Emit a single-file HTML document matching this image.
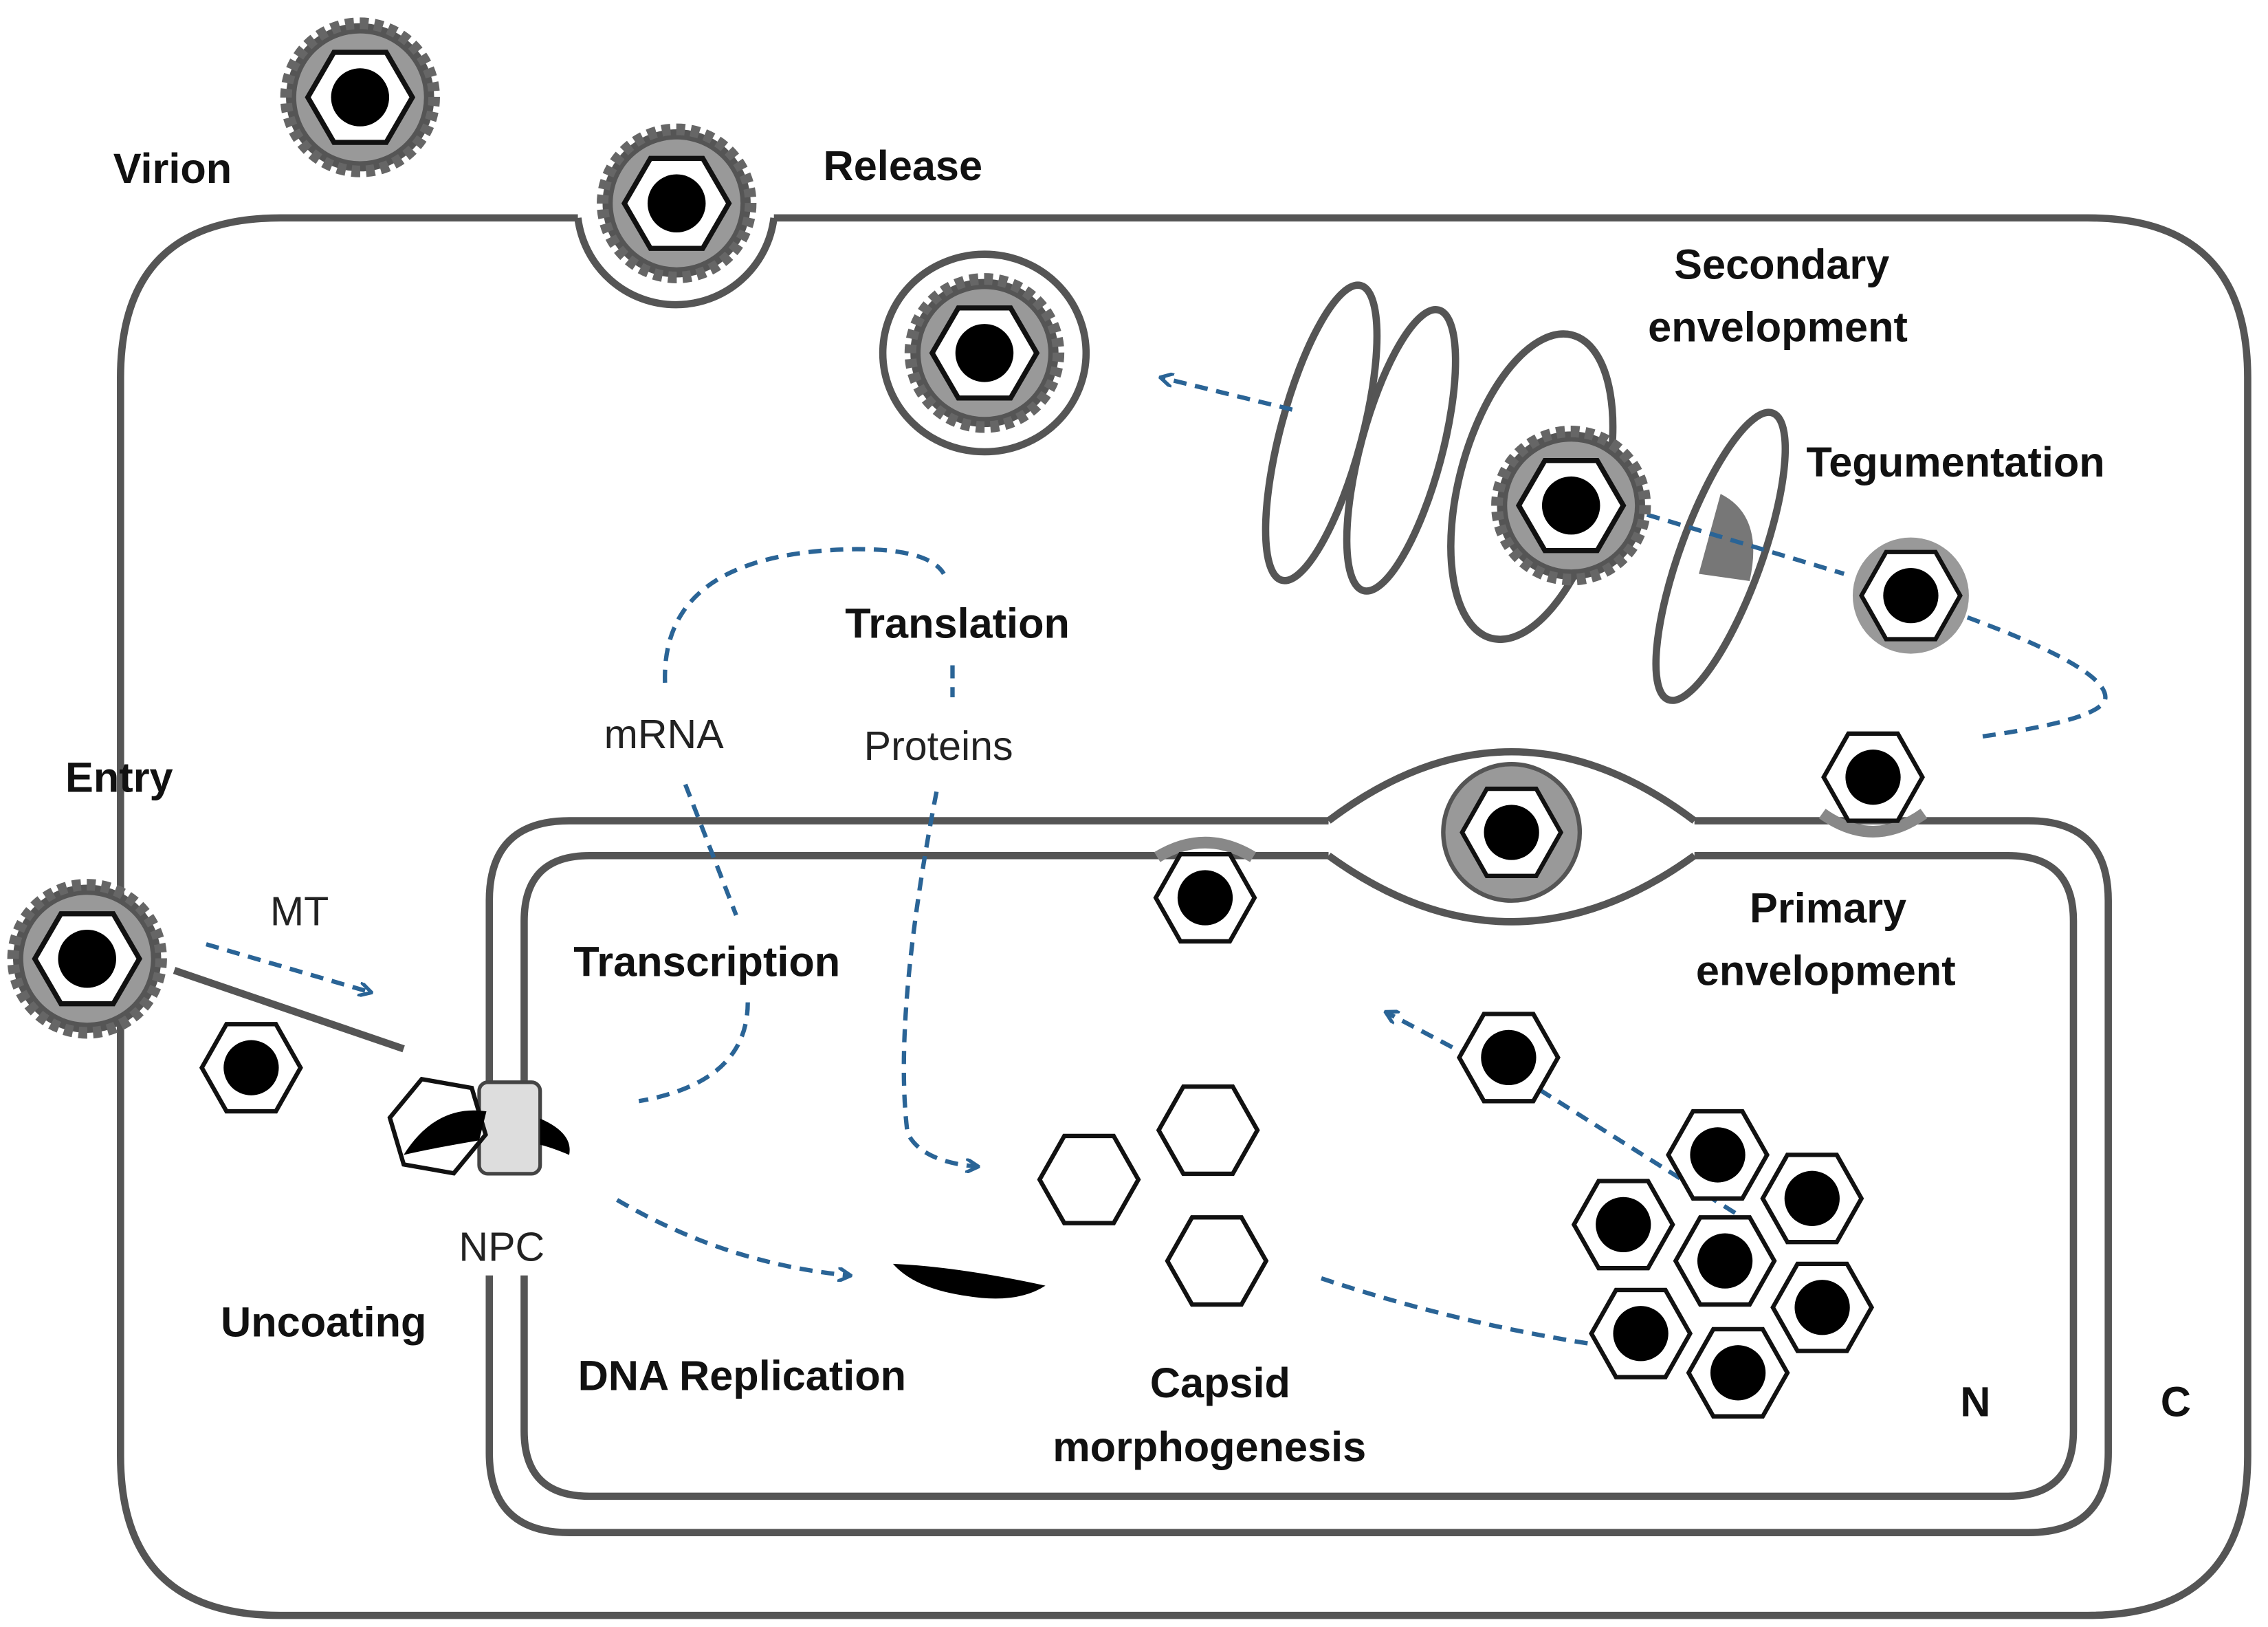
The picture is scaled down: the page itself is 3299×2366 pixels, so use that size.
<!DOCTYPE html>
<html><head><meta charset="utf-8"><style>html,body{margin:0;padding:0;background:#fff}svg{display:block}</style></head><body>
<svg width="3299" height="2366" viewBox="0 0 1562 1120" preserveAspectRatio="none" xmlns="http://www.w3.org/2000/svg">
<defs>
<g id="cap"><polygon points="-34,0 -17,-30 17,-30 34,0 17,30 -17,30" fill="#fff" stroke="#111" stroke-width="3"/><circle r="19" fill="#000"/></g>
<g id="vir">
<circle r="51" fill="#555" stroke="#666" stroke-width="8" stroke-dasharray="6 4"/>
<circle r="44" fill="#999"/>
<polygon points="-36,0 -18,-31 18,-31 36,0 18,31 -18,31" fill="#fff" stroke="#111" stroke-width="3.5"/><circle r="20" fill="#000"/></g>
<g id="teg"><circle r="40" fill="#999"/><polygon points="-34,0 -17,-30 17,-30 34,0 17,30 -17,30" fill="#fff" stroke="#111" stroke-width="3"/><circle r="19" fill="#000"/></g>
<marker id="ar" markerWidth="10" markerHeight="10" refX="8" refY="5" orient="auto" markerUnits="userSpaceOnUse"><path d="M0,0 L9,5 L0,10" fill="none" stroke="#2a6496" stroke-width="2.5"/></marker>
</defs>
<g fill="none" stroke="#555" stroke-width="5">
<path d="M398,150 L193,150 Q83,150 83,260 L83,1002 Q83,1112 193,1112 L1438,1112 Q1548,1112 1548,1002 L1548,260 Q1548,150 1438,150 L533,150"/>
<path d="M398,150 A68,68 0 0 0 533,150"/>
<path d="M337,745 L337,620 Q337,565 392,565 L915,565 M1167,565 L1397,565 Q1452,565 1452,620 L1452,1000 Q1452,1055 1397,1055 L392,1055 Q337,1055 337,1000 L337,878"/>
<path d="M361,745 L361,634 Q361,589 406,589 L915,589 M1167,589 L1383,589 Q1428,589 1428,634 L1428,985 Q1428,1030 1383,1030 L406,1030 Q361,1030 361,985 L361,878"/>
<path d="M915,565 Q1041,470 1167,565 M915,589 Q1041,680 1167,589"/>
<ellipse cx="678" cy="243" rx="70" ry="68"/>
<ellipse cx="910" cy="298" rx="28" ry="105" transform="rotate(15 910 298)"/>
<ellipse cx="965" cy="310" rx="28" ry="100" transform="rotate(15 965 310)"/>
<ellipse cx="1055" cy="335" rx="50" ry="108" transform="rotate(15 1055 335)"/>
<ellipse cx="1185" cy="383" rx="28" ry="105" transform="rotate(20 1185 383)"/>
<line x1="120" y1="668" x2="278" y2="722"/>
</g>
<path d="M1185,340 Q1215,355 1205,400 L1170,395 Z" fill="#777"/>
<rect x="330" y="745" width="42" height="63" rx="6" fill="#ddd" stroke="#444" stroke-width="2.5"/>
<g fill="none" stroke="#2a6496" stroke-width="3" stroke-dasharray="9 6">
<path d="M142,650 L255,683" marker-end="url(#ar)"/>
<path d="M890,282 L800,260" marker-end="url(#ar)"/>
<path d="M1120,350 L1270,395"/>
<path d="M1355,425 Q1450,460 1450,480 Q1450,495 1365,507"/>
<path d="M458,470 Q455,380 590,378 Q640,378 650,395"/>
<path d="M656,458 L656,480"/>
<path d="M472,540 L507,630"/>
<path d="M515,690 Q515,745 440,758"/>
<path d="M645,545 Q615,700 625,780 Q635,800 673,803" marker-end="url(#ar)"/>
<path d="M425,826 Q500,870 585,878" marker-end="url(#ar)"/>
<path d="M910,880 Q1000,910 1095,925"/>
<path d="M1195,835 L1060,750"/>
<path d="M1040,742 L955,697" marker-end="url(#ar)"/>
</g>
<use href="#vir" x="248" y="67"/>
<use href="#vir" x="466" y="140"/>
<use href="#vir" x="678" y="243"/>
<use href="#vir" x="1082" y="348"/>
<use href="#vir" x="60" y="660"/>
<use href="#teg" x="1316" y="410"/>
<circle cx="1041" cy="573" r="47" fill="#999" stroke="#555" stroke-width="3"/>
<use href="#cap" x="1041" y="573"/>
<path d="M1255,560 Q1290,585 1325,560" fill="none" stroke="#888" stroke-width="8"/>
<use href="#cap" x="1290" y="535"/>
<path d="M797,590 Q830,570 863,590" fill="none" stroke="#888" stroke-width="8"/>
<use href="#cap" x="830" y="618"/>
<use href="#cap" x="173" y="735"/>
<use href="#cap" x="1039" y="728"/>
<g><polygon points="-34,0 -17,-30 17,-30 34,0 17,30 -17,30" transform="translate(750,812)" fill="#fff" stroke="#111" stroke-width="3"/>
<polygon points="-34,0 -17,-30 17,-30 34,0 17,30 -17,30" transform="translate(832,778)" fill="#fff" stroke="#111" stroke-width="3"/>
<polygon points="-34,0 -17,-30 17,-30 34,0 17,30 -17,30" transform="translate(838,868)" fill="#fff" stroke="#111" stroke-width="3"/></g>
<use href="#cap" x="1183" y="795"/><use href="#cap" x="1248" y="825"/><use href="#cap" x="1118" y="843"/>
<use href="#cap" x="1188" y="868"/><use href="#cap" x="1255" y="900"/><use href="#cap" x="1130" y="918"/><use href="#cap" x="1197" y="945"/>
<polygon points="268,775 285,745 320,745 335,775 318,805 283,805" fill="#fff" stroke="#111" stroke-width="3" transform="rotate(10 300 775)"/>
<path d="M278,795 Q300,760 335,765 L330,785 Q300,790 278,795Z" fill="#000"/>
<path d="M372,770 Q395,780 392,795 Q380,790 372,788Z" fill="#000"/>
<path d="M615,870 Q660,872 720,885 Q700,898 665,892 Q630,887 615,870Z" fill="#000"/>
<g font-family="'Liberation Sans',sans-serif" font-weight="bold" font-size="29" fill="#111">
<text x="78" y="126">Virion</text>
<text x="567" y="124">Release</text>
<text x="1153" y="192">Secondary</text>
<text x="1135" y="235">envelopment</text>
<text x="1244" y="328">Tegumentation</text>
<text x="582" y="439">Translation</text>
<text x="45" y="545">Entry</text>
<text x="395" y="672">Transcription</text>
<text x="1205" y="635">Primary</text>
<text x="1168" y="678">envelopment</text>
<text x="152" y="920">Uncoating</text>
<text x="398" y="957">DNA Replication</text>
<text x="792" y="962">Capsid</text>
<text x="725" y="1006">morphogenesis</text>
<text x="1350" y="975">N</text>
<text x="1488" y="975">C</text>
</g>
<g font-family="'Liberation Sans',sans-serif" font-size="28" fill="#222">
<text x="416" y="515">mRNA</text>
<text x="595" y="523">Proteins</text>
<text x="186" y="637">MT</text>
<text x="316" y="868">NPC</text>
</g>
</svg>
</body></html>
